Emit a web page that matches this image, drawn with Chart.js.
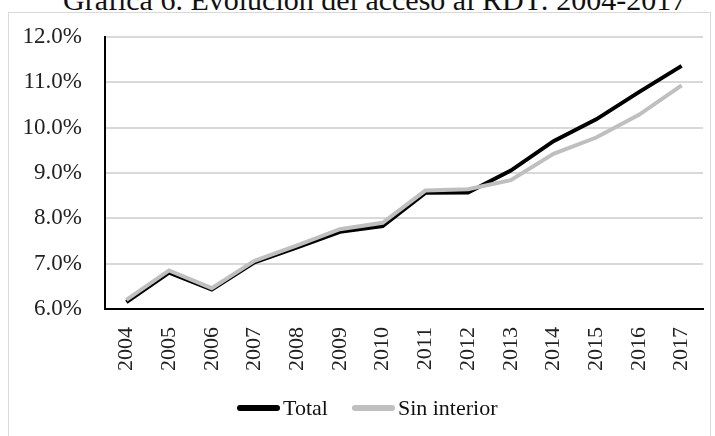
<!DOCTYPE html>
<html>
<head>
<meta charset="utf-8">
<script src="https://cdn.jsdelivr.net/npm/chart.js@4"></script>
<style>
  html, body { margin: 0; padding: 0; background: #fff; overflow: hidden; }
  body { width: 715px; height: 436px; position: relative; font-family: "Liberation Serif", serif; }
  #title { position: absolute; left: 63px; top: -15px; white-space: nowrap; font-size: 30px; line-height: 30px; color: #111; }
  #box { position: absolute; left: 8px; top: 12px; width: 703px; height: 440px; border: 1px solid #d9d9d9; box-sizing: border-box; }
  #wrap { position: absolute; left: 0; top: 0; width: 715px; height: 436px; }
  #legend { position: absolute; top: 396px; left: 237px; display: flex; align-items: center; font-size: 22px; line-height: 24px; color: #111; }
  #legend span.sw { display: inline-block; width: 43px; height: 6px; border-radius: 3px; margin-right: 3px; }
  #legend span.item { display: flex; align-items: center; margin-right: 24px; }
</style>
</head>
<body>
<div id="title">Gráfica 6. Evolución del acceso al RDT: 2004-2017</div>
<div id="box"></div>
<div id="wrap"><canvas id="chart" width="715" height="436"></canvas></div>
<div id="legend"></div>
<script>
const years = ["2004", "2005", "2006", "2007", "2008", "2009", "2010", "2011", "2012", "2013", "2014", "2015", "2016", "2017"];
const total = [6.15, 6.8, 6.43, 7.03, 7.36, 7.7, 7.83, 8.56, 8.57, 9.05, 9.7, 10.18, 10.78, 11.36];
const sinInterior = [6.2, 6.85, 6.46, 7.06, 7.4, 7.76, 7.9, 8.61, 8.64, 8.84, 9.42, 9.78, 10.28, 10.93];
const seriesNames = ["Total", "Sin interior"];
const seriesColors = ["#000000", "#bfbfbf"];

const chart = new Chart(document.getElementById("chart"), {
  type: "line",
  data: {
    labels: years,
    datasets: [
      {
        label: seriesNames[0],
        data: total,
        borderColor: seriesColors[0],
        borderWidth: 4,
        pointRadius: 0,
        tension: 0,
        order: 1
      },
      {
        label: seriesNames[1],
        data: sinInterior,
        borderColor: seriesColors[1],
        borderWidth: 4,
        pointRadius: 0,
        tension: 0,
        order: 0
      }
    ]
  },
  options: {
    responsive: false,
    animation: false,
    layout: { padding: { left: 0, right: 12, top: 33, bottom: 62 } },
    plugins: {
      legend: { display: false },
      tooltip: { enabled: false }
    },
    scales: {
      x: {
        offset: true,
        grid: { display: false, drawTicks: false },
        border: { color: "#000", width: 2 },
        ticks: { color: "#222", font: { family: "Liberation Serif", size: 22 }, minRotation: 90, maxRotation: 90, padding: 18, autoSkip: false },
        afterFit: (axis) => {
          axis.height = 65;
          axis.paddingLeft = 0;
          axis.paddingRight = 0;
        }
      },
      y: {
        min: 6,
        max: 12,
        grid: { color: "#d9d9d9", lineWidth: 2, drawTicks: false },
        border: { color: "#000", width: 2 },
        ticks: {
          color: "#222",
          font: { family: "Liberation Serif", size: 23 },
          stepSize: 1,
          padding: 23,
          callback: (v) => v.toFixed(1) + "%"
        },
        afterFit: (axis) => { axis.width = 105; }
      }
    }
  }
});

// legend built from the series names and colours
const legend = document.getElementById("legend");
seriesNames.forEach((name, i) => {
  const item = document.createElement("span");
  item.className = "item";
  item.innerHTML = `<span class="sw" style="background:${seriesColors[i]}"></span>${name}`;
  legend.appendChild(item);
});
</script>
</body>
</html>
